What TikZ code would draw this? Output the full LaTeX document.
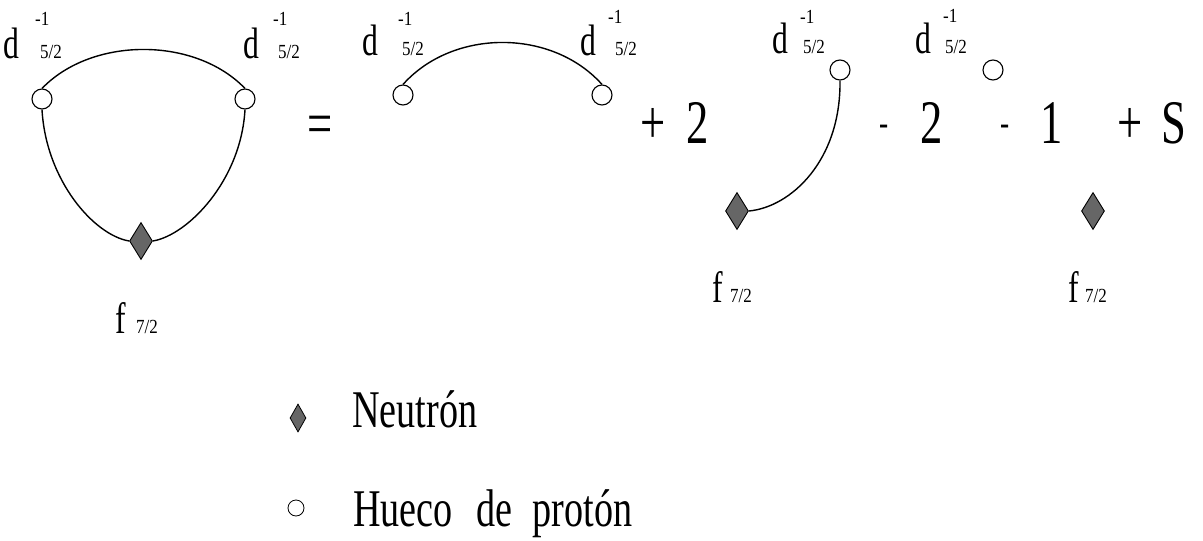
\documentclass[tikz,border=0pt]{standalone}
\usepackage{fontspec}
\usetikzlibrary{shapes.geometric}
\newfontfamily\tf[FakeStretch=0.72]{Liberation Serif}
\newfontfamily\tfs[FakeStretch=0.85]{Liberation Serif}
\begin{document}
\begin{tikzpicture}[x=1pt,y=-1pt,
  lbl/.style={inner sep=0pt, anchor=base west},
  big/.style={lbl, font=\tf\fontsize{62}{62}\selectfont},
  dl/.style={lbl, font=\tf\fontsize{44}{44}\selectfont},
  sm/.style={lbl, font=\tfs\fontsize{20}{20}\selectfont},
  leg/.style={lbl, font=\tf\fontsize{53}{53}\selectfont},
  minus/.style={font=\tf\fontsize{38}{38}\selectfont, inner sep=0pt},
  hole/.style={circle, draw, line width=1.1pt, minimum size=20pt, inner sep=0pt},
  neut/.style={diamond, draw, line width=0.9pt, fill=black!60, minimum width=23pt, minimum height=37pt, inner sep=0pt},
  line/.style={line width=1.4pt}]
\useasboundingbox (0,0) rectangle (1203,541);

% ---------- diagram 1 ----------
\node[hole] (c1) at (42,99) {};
\node[hole] (c2) at (245,99) {};
\node[neut] (n1) at (141,241) {};
\draw[line] (c1.north) .. controls +(50,-52) and +(-50,-52) .. (c2.north);
\draw[line] (c1.south) .. controls +(4,71) and +(-35,-6) .. (n1.west);
\draw[line] (c2.south) .. controls +(-4,71) and +(35,-6) .. (n1.east);
\node[dl] (d1) at (3,58) {d};
\node[sm] (d1u) at (35,25) {-1};
\node[sm] (d1l) at (40,58) {5/2};
\node[dl] (d2) at (243,58) {d};
\node[sm] (d2u) at (273,25) {-1};
\node[sm] (d2l) at (278,58) {5/2};
\node[dl] (f1) at (115,333) {f};
\node[sm] (f1l) at (136,333) {7/2};

% equals
\node[big, anchor=center] (eq) at (320,130) {=};

% ---------- diagram 2 ----------
\node[hole] (c3) at (403,95) {};
\node[hole] (c4) at (602,95) {};
\draw[line] (c3.north) .. controls +(50,-56) and +(-50,-56) .. (c4.north);
\node[dl] (d3) at (362,55) {d};
\node[sm] (d3u) at (398,25) {-1};
\node[sm] (d3l) at (402,55) {5/2};
\node[dl] (d4) at (580,55) {d};
\node[sm] (d4u) at (608,23) {-1};
\node[sm] (d4l) at (615,55) {5/2};

\node[big, anchor=center] (p1) at (653,126) {+};
\node[big] (t2a) at (686,143) {2};

% ---------- diagram 3 ----------
\node[hole] (c5) at (840,70) {};
\node[neut] (n3) at (737,211) {};
\draw[line] (c5.south) .. controls +(1,80) and +(42,-4) .. (n3.east);
\node[dl] (d5) at (772,53) {d};
\node[sm] (d5u) at (800,23) {-1};
\node[sm] (d5l) at (803,53) {5/2};
\node[dl] (f3) at (712,302) {f};
\node[sm] (f3l) at (730,302) {7/2};

\node[minus] (m1) at (884,130) {-};
\node[big] (t2b) at (920,143) {2};

% ---------- diagram 4 ----------
\node[hole] (c6) at (993,70) {};
\node[dl] (d6) at (915,53) {d};
\node[sm] (d6u) at (943,22) {-1};
\node[sm] (d6l) at (945,53) {5/2};

\node[minus] (m2) at (1005,130) {-};
\node[big] (t1) at (1040,143) {1};
\node[big, anchor=center] (p2) at (1130,126) {+};

% ---------- diagram 5 ----------
\node[neut] (n4) at (1093,211) {};
\node[dl] (f4) at (1068,302) {f};
\node[sm] (f4l) at (1085,302) {7/2};
\node[big] (tS) at (1161,143) {S};

% ---------- legend ----------
\node[diamond, draw, line width=0.8pt, fill=black!60, minimum width=16pt, minimum height=28pt, inner sep=0pt] (ln) at (298,418) {};
\node[leg] (lnt) at (352,427) {Neutrón};
\node[circle, draw, line width=0.8pt, minimum size=16pt, inner sep=0pt] (lh) at (296,508) {};
\node[leg] (lht) at (353,526) {Hueco\hspace{24pt}de\hspace{20pt}protón};
\end{tikzpicture}
\end{document}
